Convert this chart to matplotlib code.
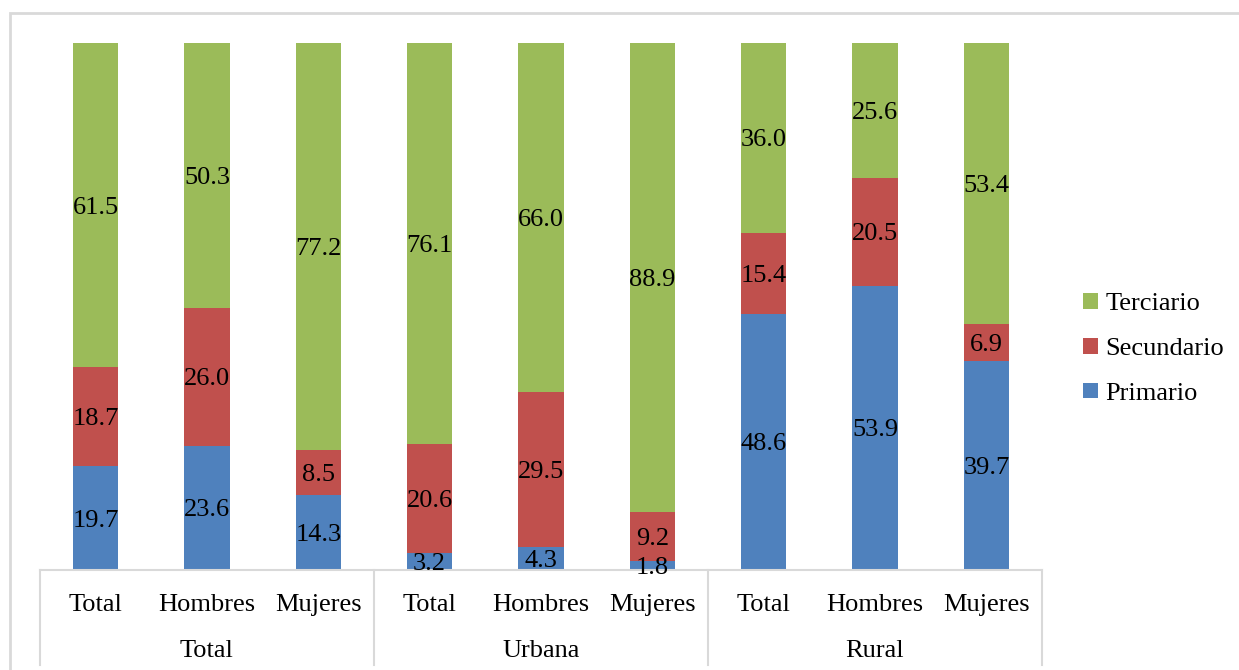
import numpy as np
import matplotlib.pyplot as plt
from matplotlib.patches import Rectangle
from matplotlib.transforms import blended_transform_factory

plt.rcParams['font.family'] = ['Liberation Serif', 'DejaVu Serif']

sub_labels = ['Total', 'Hombres', 'Mujeres'] * 3
group_labels = ['Total', 'Urbana', 'Rural']
primario = [19.7, 23.6, 14.3, 3.2, 4.3, 1.8, 48.6, 53.9, 39.7]
secundario = [18.7, 26.0, 8.5, 20.6, 29.5, 9.2, 15.4, 20.5, 6.9]
terciario = [61.5, 50.3, 77.2, 76.1, 66.0, 88.9, 36.0, 25.6, 53.4]

c_prim = '#4F81BD'
c_sec = '#C0504D'
c_ter = '#9BBB59'
grid_col = '#d9d9d9'
fs = 19

W, H = 1239, 670
fig = plt.figure(figsize=(W / 100, H / 100), dpi=100)
ax = fig.add_axes([40 / W, (H - 570) / H, (1042 - 40) / W, (570 - 43) / H])

# outer chart border
fig.patches.append(Rectangle((10 / W, -0.05), 1.1, 1 - 13 / H + 0.05,
                             transform=fig.transFigure, fill=False,
                             edgecolor=grid_col, linewidth=2))

p = np.array(primario)
s = np.array(secundario)
t = np.array(terciario)
tot = p + s + t
p_pct = p / tot * 100
s_pct = s / tot * 100
t_pct = t / tot * 100

x = np.arange(len(sub_labels))
bw = 0.41
b1 = ax.bar(x, p_pct, bw, color=c_prim, label='Primario')
b2 = ax.bar(x, s_pct, bw, bottom=p_pct, color=c_sec, label='Secundario')
b3 = ax.bar(x, t_pct, bw, bottom=p_pct + s_pct, color=c_ter, label='Terciario')

for i in range(len(x)):
    ax.text(x[i], p_pct[i] / 2, f'{p[i]:.1f}', ha='center', va='center_baseline', fontsize=fs)
    ax.text(x[i], p_pct[i] + s_pct[i] / 2, f'{s[i]:.1f}', ha='center', va='center_baseline', fontsize=fs)
    ax.text(x[i], p_pct[i] + s_pct[i] + t_pct[i] / 2, f'{t[i]:.1f}', ha='center', va='center_baseline', fontsize=fs)

ax.set_xlim(-0.5, len(x) - 0.5)
ax.set_ylim(0, 100)
ax.set_yticks([])
ax.set_xticks([])
for sp in ['top', 'right', 'left']:
    ax.spines[sp].set_visible(False)
ax.spines['bottom'].set_color(grid_col)
ax.spines['bottom'].set_linewidth(1.5)

# two-level category axis
trans = blended_transform_factory(ax.transData, ax.transAxes)
for i, lab in enumerate(sub_labels):
    ax.text(x[i], -0.061, lab, transform=trans, ha='center', va='center_baseline', fontsize=fs)
for g, lab in enumerate(group_labels):
    ax.text(3 * g + 1, -0.149, lab, transform=trans, ha='center', va='center_baseline', fontsize=fs)
for xs in [-0.5, 2.5, 5.5, 8.5]:
    ax.plot([xs, xs], [0, -0.18], transform=trans, color=grid_col, lw=1.5, clip_on=False)

fig.legend(handles=[b3, b2, b1], loc='center left',
           bbox_to_anchor=(1083 / W, 1 - 349 / H), frameon=False, fontsize=fs,
           handlelength=0.55, handleheight=0.55, handletextpad=0.3,
           labelspacing=0.85, borderpad=0, borderaxespad=0)

fig.savefig('out.png', dpi=100)
